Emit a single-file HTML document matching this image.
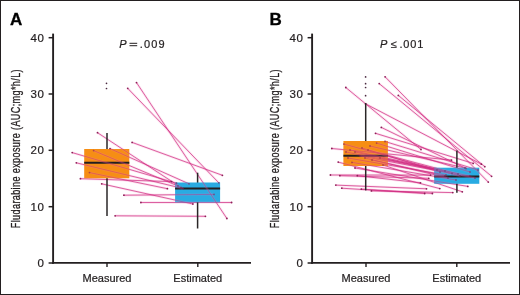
<!DOCTYPE html>
<html><head><meta charset="utf-8"><style>
html,body{margin:0;padding:0;background:#fff;}
body{width:520px;height:295px;overflow:hidden;}
svg{display:block;filter:blur(0.3px);font-family:"Liberation Sans",sans-serif;}
text.t{stroke:#231F20;stroke-width:0.22px;}
</style></head><body>
<svg width="520" height="295" viewBox="0 0 520 295">
<rect x="0" y="0" width="520" height="295" fill="#fff"/>
<text x="10" y="24.5" font-size="17" font-weight="bold" fill="#000" stroke="#000" stroke-width="0.3">A</text>
<text transform="translate(19.6,148.6) rotate(-90) scale(0.745,1)" text-anchor="middle" font-size="12.2" letter-spacing="0.5" fill="#231F20" stroke="#231F20" stroke-width="0.3">Fludarabine exposure (AUC;mg*h/L)</text>
<text x="44.6" y="267.1" text-anchor="end" class="t" font-size="11.5" letter-spacing="0.7" fill="#231F20">0</text>
<line x1="48.6" y1="263.0" x2="53" y2="263.0" stroke="#231F20" stroke-width="1.5"/>
<text x="44.6" y="210.8" text-anchor="end" class="t" font-size="11.5" letter-spacing="0.7" fill="#231F20">10</text>
<line x1="48.6" y1="206.7" x2="53" y2="206.7" stroke="#231F20" stroke-width="1.5"/>
<text x="44.6" y="154.4" text-anchor="end" class="t" font-size="11.5" letter-spacing="0.7" fill="#231F20">20</text>
<line x1="48.6" y1="150.3" x2="53" y2="150.3" stroke="#231F20" stroke-width="1.5"/>
<text x="44.6" y="98.1" text-anchor="end" class="t" font-size="11.5" letter-spacing="0.7" fill="#231F20">30</text>
<line x1="48.6" y1="94.0" x2="53" y2="94.0" stroke="#231F20" stroke-width="1.5"/>
<text x="44.6" y="41.8" text-anchor="end" class="t" font-size="11.5" letter-spacing="0.7" fill="#231F20">40</text>
<line x1="48.6" y1="37.7" x2="53" y2="37.7" stroke="#231F20" stroke-width="1.5"/>
<text x="119.3" y="47.7" class="t" font-size="11" font-style="italic" fill="#231F20">P</text><rect x="129.5" y="42.8" width="7.7" height="1" fill="#231F20"/><rect x="129.5" y="45.2" width="7.7" height="1" fill="#231F20"/><text x="139.8" y="47.9" class="t" font-size="11" letter-spacing="1.1" fill="#231F20">.009</text>
<line x1="136.5" y1="82.6" x2="226.9" y2="218.5" stroke="#F28CC0" stroke-opacity="0.25" stroke-width="2.4"/>
<line x1="127.7" y1="88.3" x2="218.8" y2="182.8" stroke="#F28CC0" stroke-opacity="0.25" stroke-width="2.4"/>
<line x1="132.1" y1="142.4" x2="222.4" y2="175.3" stroke="#F28CC0" stroke-opacity="0.25" stroke-width="2.4"/>
<line x1="97.5" y1="132.7" x2="181.0" y2="187.5" stroke="#F28CC0" stroke-opacity="0.25" stroke-width="2.4"/>
<line x1="110.0" y1="148.6" x2="189.0" y2="183.8" stroke="#F28CC0" stroke-opacity="0.25" stroke-width="2.4"/>
<line x1="93.6" y1="150.6" x2="178.0" y2="186.0" stroke="#F28CC0" stroke-opacity="0.25" stroke-width="2.4"/>
<line x1="72.2" y1="152.6" x2="176.5" y2="183.2" stroke="#F28CC0" stroke-opacity="0.25" stroke-width="2.4"/>
<line x1="76.3" y1="162.8" x2="183.0" y2="188.5" stroke="#F28CC0" stroke-opacity="0.25" stroke-width="2.4"/>
<line x1="89.5" y1="172.6" x2="167.4" y2="188.7" stroke="#F28CC0" stroke-opacity="0.25" stroke-width="2.4"/>
<line x1="80.4" y1="178.7" x2="171.5" y2="181.6" stroke="#F28CC0" stroke-opacity="0.25" stroke-width="2.4"/>
<line x1="101.7" y1="183.8" x2="192.9" y2="204.0" stroke="#F28CC0" stroke-opacity="0.25" stroke-width="2.4"/>
<line x1="123.9" y1="195.2" x2="214.0" y2="194.4" stroke="#F28CC0" stroke-opacity="0.25" stroke-width="2.4"/>
<line x1="140.9" y1="202.5" x2="231.6" y2="202.5" stroke="#F28CC0" stroke-opacity="0.25" stroke-width="2.4"/>
<line x1="115.1" y1="215.8" x2="205.4" y2="216.3" stroke="#F28CC0" stroke-opacity="0.25" stroke-width="2.4"/>
<line x1="136.5" y1="82.6" x2="226.9" y2="218.5" stroke="#D02C82" stroke-opacity="0.9" stroke-width="0.8"/>
<line x1="127.7" y1="88.3" x2="218.8" y2="182.8" stroke="#D02C82" stroke-opacity="0.9" stroke-width="0.8"/>
<line x1="132.1" y1="142.4" x2="222.4" y2="175.3" stroke="#D02C82" stroke-opacity="0.9" stroke-width="0.8"/>
<line x1="97.5" y1="132.7" x2="181.0" y2="187.5" stroke="#D02C82" stroke-opacity="0.9" stroke-width="0.8"/>
<line x1="110.0" y1="148.6" x2="189.0" y2="183.8" stroke="#D02C82" stroke-opacity="0.9" stroke-width="0.8"/>
<line x1="93.6" y1="150.6" x2="178.0" y2="186.0" stroke="#D02C82" stroke-opacity="0.9" stroke-width="0.8"/>
<line x1="72.2" y1="152.6" x2="176.5" y2="183.2" stroke="#D02C82" stroke-opacity="0.9" stroke-width="0.8"/>
<line x1="76.3" y1="162.8" x2="183.0" y2="188.5" stroke="#D02C82" stroke-opacity="0.9" stroke-width="0.8"/>
<line x1="89.5" y1="172.6" x2="167.4" y2="188.7" stroke="#D02C82" stroke-opacity="0.9" stroke-width="0.8"/>
<line x1="80.4" y1="178.7" x2="171.5" y2="181.6" stroke="#D02C82" stroke-opacity="0.9" stroke-width="0.8"/>
<line x1="101.7" y1="183.8" x2="192.9" y2="204.0" stroke="#D02C82" stroke-opacity="0.9" stroke-width="0.8"/>
<line x1="123.9" y1="195.2" x2="214.0" y2="194.4" stroke="#D02C82" stroke-opacity="0.9" stroke-width="0.8"/>
<line x1="140.9" y1="202.5" x2="231.6" y2="202.5" stroke="#D02C82" stroke-opacity="0.9" stroke-width="0.8"/>
<line x1="115.1" y1="215.8" x2="205.4" y2="216.3" stroke="#D02C82" stroke-opacity="0.9" stroke-width="0.8"/>
<circle cx="136.5" cy="82.6" r="0.9" fill="#8E2058"/><circle cx="226.9" cy="218.5" r="0.9" fill="#8E2058"/>
<circle cx="127.7" cy="88.3" r="0.9" fill="#8E2058"/><circle cx="218.8" cy="182.8" r="0.9" fill="#8E2058"/>
<circle cx="132.1" cy="142.4" r="0.9" fill="#8E2058"/><circle cx="222.4" cy="175.3" r="0.9" fill="#8E2058"/>
<circle cx="97.5" cy="132.7" r="0.9" fill="#8E2058"/><circle cx="181.0" cy="187.5" r="0.9" fill="#8E2058"/>
<circle cx="110.0" cy="148.6" r="0.9" fill="#8E2058"/><circle cx="189.0" cy="183.8" r="0.9" fill="#8E2058"/>
<circle cx="93.6" cy="150.6" r="0.9" fill="#8E2058"/><circle cx="178.0" cy="186.0" r="0.9" fill="#8E2058"/>
<circle cx="72.2" cy="152.6" r="0.9" fill="#8E2058"/><circle cx="176.5" cy="183.2" r="0.9" fill="#8E2058"/>
<circle cx="76.3" cy="162.8" r="0.9" fill="#8E2058"/><circle cx="183.0" cy="188.5" r="0.9" fill="#8E2058"/>
<circle cx="89.5" cy="172.6" r="0.9" fill="#8E2058"/><circle cx="167.4" cy="188.7" r="0.9" fill="#8E2058"/>
<circle cx="80.4" cy="178.7" r="0.9" fill="#8E2058"/><circle cx="171.5" cy="181.6" r="0.9" fill="#8E2058"/>
<circle cx="101.7" cy="183.8" r="0.9" fill="#8E2058"/><circle cx="192.9" cy="204.0" r="0.9" fill="#8E2058"/>
<circle cx="123.9" cy="195.2" r="0.9" fill="#8E2058"/><circle cx="214.0" cy="194.4" r="0.9" fill="#8E2058"/>
<circle cx="140.9" cy="202.5" r="0.9" fill="#8E2058"/><circle cx="231.6" cy="202.5" r="0.9" fill="#8E2058"/>
<circle cx="115.1" cy="215.8" r="0.9" fill="#8E2058"/><circle cx="205.4" cy="216.3" r="0.9" fill="#8E2058"/>
<circle cx="106.5" cy="83.3" r="0.85" fill="#4A2A40"/>
<circle cx="106.5" cy="88.5" r="0.85" fill="#4A2A40"/>
<line x1="107" y1="133" x2="107" y2="216" stroke="#2A2627" stroke-width="1.5"/>
<rect x="84.2" y="149" width="45.10000000000001" height="29.30000000000001" fill="#F68E14"/>
<line x1="197.6" y1="172.7" x2="197.6" y2="228.5" stroke="#2A2627" stroke-width="1.5"/>
<rect x="175.1" y="182.5" width="45.0" height="19.80000000000001" fill="#29ABE2"/>
<line x1="84.2" y1="162.8" x2="129.3" y2="162.8" stroke="#231F20" stroke-width="2"/>
<line x1="175.1" y1="188.6" x2="220.1" y2="188.6" stroke="#231F20" stroke-width="2"/>
<clipPath id="clipA"><rect x="84.2" y="149" width="45.10000000000001" height="29.30000000000001"/><rect x="175.1" y="182.5" width="45.0" height="19.80000000000001"/></clipPath>
<g clip-path="url(#clipA)" opacity="0.65"><line x1="136.5" y1="82.6" x2="226.9" y2="218.5" stroke="#F28CC0" stroke-opacity="0.25" stroke-width="2.4"/><line x1="127.7" y1="88.3" x2="218.8" y2="182.8" stroke="#F28CC0" stroke-opacity="0.25" stroke-width="2.4"/><line x1="132.1" y1="142.4" x2="222.4" y2="175.3" stroke="#F28CC0" stroke-opacity="0.25" stroke-width="2.4"/><line x1="97.5" y1="132.7" x2="181.0" y2="187.5" stroke="#F28CC0" stroke-opacity="0.25" stroke-width="2.4"/><line x1="110.0" y1="148.6" x2="189.0" y2="183.8" stroke="#F28CC0" stroke-opacity="0.25" stroke-width="2.4"/><line x1="93.6" y1="150.6" x2="178.0" y2="186.0" stroke="#F28CC0" stroke-opacity="0.25" stroke-width="2.4"/><line x1="72.2" y1="152.6" x2="176.5" y2="183.2" stroke="#F28CC0" stroke-opacity="0.25" stroke-width="2.4"/><line x1="76.3" y1="162.8" x2="183.0" y2="188.5" stroke="#F28CC0" stroke-opacity="0.25" stroke-width="2.4"/><line x1="89.5" y1="172.6" x2="167.4" y2="188.7" stroke="#F28CC0" stroke-opacity="0.25" stroke-width="2.4"/><line x1="80.4" y1="178.7" x2="171.5" y2="181.6" stroke="#F28CC0" stroke-opacity="0.25" stroke-width="2.4"/><line x1="101.7" y1="183.8" x2="192.9" y2="204.0" stroke="#F28CC0" stroke-opacity="0.25" stroke-width="2.4"/><line x1="123.9" y1="195.2" x2="214.0" y2="194.4" stroke="#F28CC0" stroke-opacity="0.25" stroke-width="2.4"/><line x1="140.9" y1="202.5" x2="231.6" y2="202.5" stroke="#F28CC0" stroke-opacity="0.25" stroke-width="2.4"/><line x1="115.1" y1="215.8" x2="205.4" y2="216.3" stroke="#F28CC0" stroke-opacity="0.25" stroke-width="2.4"/><line x1="136.5" y1="82.6" x2="226.9" y2="218.5" stroke="#D02C82" stroke-opacity="0.9" stroke-width="0.8"/><line x1="127.7" y1="88.3" x2="218.8" y2="182.8" stroke="#D02C82" stroke-opacity="0.9" stroke-width="0.8"/><line x1="132.1" y1="142.4" x2="222.4" y2="175.3" stroke="#D02C82" stroke-opacity="0.9" stroke-width="0.8"/><line x1="97.5" y1="132.7" x2="181.0" y2="187.5" stroke="#D02C82" stroke-opacity="0.9" stroke-width="0.8"/><line x1="110.0" y1="148.6" x2="189.0" y2="183.8" stroke="#D02C82" stroke-opacity="0.9" stroke-width="0.8"/><line x1="93.6" y1="150.6" x2="178.0" y2="186.0" stroke="#D02C82" stroke-opacity="0.9" stroke-width="0.8"/><line x1="72.2" y1="152.6" x2="176.5" y2="183.2" stroke="#D02C82" stroke-opacity="0.9" stroke-width="0.8"/><line x1="76.3" y1="162.8" x2="183.0" y2="188.5" stroke="#D02C82" stroke-opacity="0.9" stroke-width="0.8"/><line x1="89.5" y1="172.6" x2="167.4" y2="188.7" stroke="#D02C82" stroke-opacity="0.9" stroke-width="0.8"/><line x1="80.4" y1="178.7" x2="171.5" y2="181.6" stroke="#D02C82" stroke-opacity="0.9" stroke-width="0.8"/><line x1="101.7" y1="183.8" x2="192.9" y2="204.0" stroke="#D02C82" stroke-opacity="0.9" stroke-width="0.8"/><line x1="123.9" y1="195.2" x2="214.0" y2="194.4" stroke="#D02C82" stroke-opacity="0.9" stroke-width="0.8"/><line x1="140.9" y1="202.5" x2="231.6" y2="202.5" stroke="#D02C82" stroke-opacity="0.9" stroke-width="0.8"/><line x1="115.1" y1="215.8" x2="205.4" y2="216.3" stroke="#D02C82" stroke-opacity="0.9" stroke-width="0.8"/><circle cx="136.5" cy="82.6" r="0.9" fill="#8E2058"/><circle cx="226.9" cy="218.5" r="0.9" fill="#8E2058"/><circle cx="127.7" cy="88.3" r="0.9" fill="#8E2058"/><circle cx="218.8" cy="182.8" r="0.9" fill="#8E2058"/><circle cx="132.1" cy="142.4" r="0.9" fill="#8E2058"/><circle cx="222.4" cy="175.3" r="0.9" fill="#8E2058"/><circle cx="97.5" cy="132.7" r="0.9" fill="#8E2058"/><circle cx="181.0" cy="187.5" r="0.9" fill="#8E2058"/><circle cx="110.0" cy="148.6" r="0.9" fill="#8E2058"/><circle cx="189.0" cy="183.8" r="0.9" fill="#8E2058"/><circle cx="93.6" cy="150.6" r="0.9" fill="#8E2058"/><circle cx="178.0" cy="186.0" r="0.9" fill="#8E2058"/><circle cx="72.2" cy="152.6" r="0.9" fill="#8E2058"/><circle cx="176.5" cy="183.2" r="0.9" fill="#8E2058"/><circle cx="76.3" cy="162.8" r="0.9" fill="#8E2058"/><circle cx="183.0" cy="188.5" r="0.9" fill="#8E2058"/><circle cx="89.5" cy="172.6" r="0.9" fill="#8E2058"/><circle cx="167.4" cy="188.7" r="0.9" fill="#8E2058"/><circle cx="80.4" cy="178.7" r="0.9" fill="#8E2058"/><circle cx="171.5" cy="181.6" r="0.9" fill="#8E2058"/><circle cx="101.7" cy="183.8" r="0.9" fill="#8E2058"/><circle cx="192.9" cy="204.0" r="0.9" fill="#8E2058"/><circle cx="123.9" cy="195.2" r="0.9" fill="#8E2058"/><circle cx="214.0" cy="194.4" r="0.9" fill="#8E2058"/><circle cx="140.9" cy="202.5" r="0.9" fill="#8E2058"/><circle cx="231.6" cy="202.5" r="0.9" fill="#8E2058"/><circle cx="115.1" cy="215.8" r="0.9" fill="#8E2058"/><circle cx="205.4" cy="216.3" r="0.9" fill="#8E2058"/><circle cx="106.5" cy="83.3" r="0.85" fill="#4A2A40"/><circle cx="106.5" cy="88.5" r="0.85" fill="#4A2A40"/></g>

<line x1="53.1" y1="33.6" x2="53.1" y2="263.8" stroke="#231F20" stroke-width="1.9"/>
<line x1="52.2" y1="262.85" x2="251" y2="262.85" stroke="#231F20" stroke-width="1.9"/>
<line x1="107" y1="263" x2="107" y2="267" stroke="#231F20" stroke-width="1.4"/>
<line x1="197.8" y1="263" x2="197.8" y2="267" stroke="#231F20" stroke-width="1.4"/>
<text x="107" y="281.7" class="t" text-anchor="middle" font-size="11" fill="#231F20">Measured</text>
<text x="197.8" y="281.7" class="t" text-anchor="middle" font-size="11" fill="#231F20">Estimated</text><text x="269.4" y="24.5" font-size="17" font-weight="bold" fill="#000" stroke="#000" stroke-width="0.3">B</text>
<text transform="translate(278.6,148.6) rotate(-90) scale(0.745,1)" text-anchor="middle" font-size="12.2" letter-spacing="0.5" fill="#231F20" stroke="#231F20" stroke-width="0.3">Fludarabine exposure (AUC;mg*h/L)</text>
<text x="303.6" y="267.1" text-anchor="end" class="t" font-size="11.5" letter-spacing="0.7" fill="#231F20">0</text>
<line x1="307.6" y1="263.0" x2="312" y2="263.0" stroke="#231F20" stroke-width="1.5"/>
<text x="303.6" y="210.8" text-anchor="end" class="t" font-size="11.5" letter-spacing="0.7" fill="#231F20">10</text>
<line x1="307.6" y1="206.7" x2="312" y2="206.7" stroke="#231F20" stroke-width="1.5"/>
<text x="303.6" y="154.4" text-anchor="end" class="t" font-size="11.5" letter-spacing="0.7" fill="#231F20">20</text>
<line x1="307.6" y1="150.3" x2="312" y2="150.3" stroke="#231F20" stroke-width="1.5"/>
<text x="303.6" y="98.1" text-anchor="end" class="t" font-size="11.5" letter-spacing="0.7" fill="#231F20">30</text>
<line x1="307.6" y1="94.0" x2="312" y2="94.0" stroke="#231F20" stroke-width="1.5"/>
<text x="303.6" y="41.8" text-anchor="end" class="t" font-size="11.5" letter-spacing="0.7" fill="#231F20">40</text>
<line x1="307.6" y1="37.7" x2="312" y2="37.7" stroke="#231F20" stroke-width="1.5"/>
<text x="380.1" y="47.8" class="t" font-size="11" font-style="italic" fill="#231F20">P</text><text x="390.4" y="48.3" class="t" font-size="11" fill="#231F20">≤</text><text x="399.5" y="47.9" class="t" font-size="11" letter-spacing="0.8" fill="#231F20">.001</text>
<line x1="385.1" y1="76.8" x2="488.3" y2="182.1" stroke="#F28CC0" stroke-opacity="0.25" stroke-width="2.4"/>
<line x1="379.2" y1="83.6" x2="491.6" y2="176.3" stroke="#F28CC0" stroke-opacity="0.25" stroke-width="2.4"/>
<line x1="398.3" y1="95.4" x2="484.8" y2="166.7" stroke="#F28CC0" stroke-opacity="0.25" stroke-width="2.4"/>
<line x1="365.5" y1="103.8" x2="481.4" y2="164.2" stroke="#F28CC0" stroke-opacity="0.25" stroke-width="2.4"/>
<line x1="345.8" y1="87.5" x2="421.0" y2="149.5" stroke="#F28CC0" stroke-opacity="0.25" stroke-width="2.4"/>
<line x1="381.3" y1="127.4" x2="466.0" y2="168.5" stroke="#F28CC0" stroke-opacity="0.25" stroke-width="2.4"/>
<line x1="375.5" y1="133.3" x2="473.2" y2="163.4" stroke="#F28CC0" stroke-opacity="0.25" stroke-width="2.4"/>
<line x1="376.6" y1="143.1" x2="470.0" y2="172.0" stroke="#F28CC0" stroke-opacity="0.25" stroke-width="2.4"/>
<line x1="344.0" y1="144.1" x2="460.0" y2="176.0" stroke="#F28CC0" stroke-opacity="0.25" stroke-width="2.4"/>
<line x1="331.8" y1="148.5" x2="451.5" y2="160.1" stroke="#F28CC0" stroke-opacity="0.25" stroke-width="2.4"/>
<line x1="359.6" y1="155.8" x2="475.0" y2="178.0" stroke="#F28CC0" stroke-opacity="0.25" stroke-width="2.4"/>
<line x1="350.0" y1="150.0" x2="445.0" y2="171.0" stroke="#F28CC0" stroke-opacity="0.25" stroke-width="2.4"/>
<line x1="370.0" y1="146.0" x2="465.0" y2="168.0" stroke="#F28CC0" stroke-opacity="0.25" stroke-width="2.4"/>
<line x1="385.0" y1="141.5" x2="478.0" y2="170.0" stroke="#F28CC0" stroke-opacity="0.25" stroke-width="2.4"/>
<line x1="338.2" y1="162.1" x2="439.8" y2="188.6" stroke="#F28CC0" stroke-opacity="0.25" stroke-width="2.4"/>
<line x1="352.0" y1="162.4" x2="456.0" y2="180.0" stroke="#F28CC0" stroke-opacity="0.25" stroke-width="2.4"/>
<line x1="383.0" y1="165.0" x2="462.3" y2="191.8" stroke="#F28CC0" stroke-opacity="0.25" stroke-width="2.4"/>
<line x1="365.0" y1="158.0" x2="448.0" y2="178.0" stroke="#F28CC0" stroke-opacity="0.25" stroke-width="2.4"/>
<line x1="330.4" y1="175.0" x2="430.6" y2="175.1" stroke="#F28CC0" stroke-opacity="0.25" stroke-width="2.4"/>
<line x1="339.8" y1="175.7" x2="428.8" y2="178.3" stroke="#F28CC0" stroke-opacity="0.25" stroke-width="2.4"/>
<line x1="357.3" y1="175.7" x2="420.5" y2="182.8" stroke="#F28CC0" stroke-opacity="0.25" stroke-width="2.4"/>
<line x1="335.8" y1="185.1" x2="426.5" y2="188.8" stroke="#F28CC0" stroke-opacity="0.25" stroke-width="2.4"/>
<line x1="341.8" y1="188.2" x2="424.7" y2="193.5" stroke="#F28CC0" stroke-opacity="0.25" stroke-width="2.4"/>
<line x1="361.3" y1="189.1" x2="432.4" y2="193.5" stroke="#F28CC0" stroke-opacity="0.25" stroke-width="2.4"/>
<line x1="371.4" y1="190.9" x2="452.8" y2="192.6" stroke="#F28CC0" stroke-opacity="0.25" stroke-width="2.4"/>
<line x1="355.0" y1="168.0" x2="467.8" y2="186.4" stroke="#F28CC0" stroke-opacity="0.25" stroke-width="2.4"/>
<line x1="368.0" y1="150.0" x2="458.0" y2="174.0" stroke="#F28CC0" stroke-opacity="0.25" stroke-width="2.4"/>
<line x1="355.0" y1="152.0" x2="452.0" y2="173.5" stroke="#F28CC0" stroke-opacity="0.25" stroke-width="2.4"/>
<line x1="380.0" y1="158.0" x2="470.0" y2="176.0" stroke="#F28CC0" stroke-opacity="0.25" stroke-width="2.4"/>
<line x1="348.0" y1="158.0" x2="446.0" y2="175.0" stroke="#F28CC0" stroke-opacity="0.25" stroke-width="2.4"/>
<line x1="362.0" y1="148.0" x2="440.0" y2="172.0" stroke="#F28CC0" stroke-opacity="0.25" stroke-width="2.4"/>
<line x1="372.0" y1="160.0" x2="445.0" y2="176.0" stroke="#F28CC0" stroke-opacity="0.25" stroke-width="2.4"/>
<line x1="346.0" y1="152.0" x2="437.0" y2="170.0" stroke="#F28CC0" stroke-opacity="0.25" stroke-width="2.4"/>
<line x1="385.1" y1="76.8" x2="488.3" y2="182.1" stroke="#D02C82" stroke-opacity="0.9" stroke-width="0.8"/>
<line x1="379.2" y1="83.6" x2="491.6" y2="176.3" stroke="#D02C82" stroke-opacity="0.9" stroke-width="0.8"/>
<line x1="398.3" y1="95.4" x2="484.8" y2="166.7" stroke="#D02C82" stroke-opacity="0.9" stroke-width="0.8"/>
<line x1="365.5" y1="103.8" x2="481.4" y2="164.2" stroke="#D02C82" stroke-opacity="0.9" stroke-width="0.8"/>
<line x1="345.8" y1="87.5" x2="421.0" y2="149.5" stroke="#D02C82" stroke-opacity="0.9" stroke-width="0.8"/>
<line x1="381.3" y1="127.4" x2="466.0" y2="168.5" stroke="#D02C82" stroke-opacity="0.9" stroke-width="0.8"/>
<line x1="375.5" y1="133.3" x2="473.2" y2="163.4" stroke="#D02C82" stroke-opacity="0.9" stroke-width="0.8"/>
<line x1="376.6" y1="143.1" x2="470.0" y2="172.0" stroke="#D02C82" stroke-opacity="0.9" stroke-width="0.8"/>
<line x1="344.0" y1="144.1" x2="460.0" y2="176.0" stroke="#D02C82" stroke-opacity="0.9" stroke-width="0.8"/>
<line x1="331.8" y1="148.5" x2="451.5" y2="160.1" stroke="#D02C82" stroke-opacity="0.9" stroke-width="0.8"/>
<line x1="359.6" y1="155.8" x2="475.0" y2="178.0" stroke="#D02C82" stroke-opacity="0.9" stroke-width="0.8"/>
<line x1="350.0" y1="150.0" x2="445.0" y2="171.0" stroke="#D02C82" stroke-opacity="0.9" stroke-width="0.8"/>
<line x1="370.0" y1="146.0" x2="465.0" y2="168.0" stroke="#D02C82" stroke-opacity="0.9" stroke-width="0.8"/>
<line x1="385.0" y1="141.5" x2="478.0" y2="170.0" stroke="#D02C82" stroke-opacity="0.9" stroke-width="0.8"/>
<line x1="338.2" y1="162.1" x2="439.8" y2="188.6" stroke="#D02C82" stroke-opacity="0.9" stroke-width="0.8"/>
<line x1="352.0" y1="162.4" x2="456.0" y2="180.0" stroke="#D02C82" stroke-opacity="0.9" stroke-width="0.8"/>
<line x1="383.0" y1="165.0" x2="462.3" y2="191.8" stroke="#D02C82" stroke-opacity="0.9" stroke-width="0.8"/>
<line x1="365.0" y1="158.0" x2="448.0" y2="178.0" stroke="#D02C82" stroke-opacity="0.9" stroke-width="0.8"/>
<line x1="330.4" y1="175.0" x2="430.6" y2="175.1" stroke="#D02C82" stroke-opacity="0.9" stroke-width="0.8"/>
<line x1="339.8" y1="175.7" x2="428.8" y2="178.3" stroke="#D02C82" stroke-opacity="0.9" stroke-width="0.8"/>
<line x1="357.3" y1="175.7" x2="420.5" y2="182.8" stroke="#D02C82" stroke-opacity="0.9" stroke-width="0.8"/>
<line x1="335.8" y1="185.1" x2="426.5" y2="188.8" stroke="#D02C82" stroke-opacity="0.9" stroke-width="0.8"/>
<line x1="341.8" y1="188.2" x2="424.7" y2="193.5" stroke="#D02C82" stroke-opacity="0.9" stroke-width="0.8"/>
<line x1="361.3" y1="189.1" x2="432.4" y2="193.5" stroke="#D02C82" stroke-opacity="0.9" stroke-width="0.8"/>
<line x1="371.4" y1="190.9" x2="452.8" y2="192.6" stroke="#D02C82" stroke-opacity="0.9" stroke-width="0.8"/>
<line x1="355.0" y1="168.0" x2="467.8" y2="186.4" stroke="#D02C82" stroke-opacity="0.9" stroke-width="0.8"/>
<line x1="368.0" y1="150.0" x2="458.0" y2="174.0" stroke="#D02C82" stroke-opacity="0.9" stroke-width="0.8"/>
<line x1="355.0" y1="152.0" x2="452.0" y2="173.5" stroke="#D02C82" stroke-opacity="0.9" stroke-width="0.8"/>
<line x1="380.0" y1="158.0" x2="470.0" y2="176.0" stroke="#D02C82" stroke-opacity="0.9" stroke-width="0.8"/>
<line x1="348.0" y1="158.0" x2="446.0" y2="175.0" stroke="#D02C82" stroke-opacity="0.9" stroke-width="0.8"/>
<line x1="362.0" y1="148.0" x2="440.0" y2="172.0" stroke="#D02C82" stroke-opacity="0.9" stroke-width="0.8"/>
<line x1="372.0" y1="160.0" x2="445.0" y2="176.0" stroke="#D02C82" stroke-opacity="0.9" stroke-width="0.8"/>
<line x1="346.0" y1="152.0" x2="437.0" y2="170.0" stroke="#D02C82" stroke-opacity="0.9" stroke-width="0.8"/>
<circle cx="385.1" cy="76.8" r="0.9" fill="#8E2058"/><circle cx="488.3" cy="182.1" r="0.9" fill="#8E2058"/>
<circle cx="379.2" cy="83.6" r="0.9" fill="#8E2058"/><circle cx="491.6" cy="176.3" r="0.9" fill="#8E2058"/>
<circle cx="398.3" cy="95.4" r="0.9" fill="#8E2058"/><circle cx="484.8" cy="166.7" r="0.9" fill="#8E2058"/>
<circle cx="365.5" cy="103.8" r="0.9" fill="#8E2058"/><circle cx="481.4" cy="164.2" r="0.9" fill="#8E2058"/>
<circle cx="345.8" cy="87.5" r="0.9" fill="#8E2058"/><circle cx="421.0" cy="149.5" r="0.9" fill="#8E2058"/>
<circle cx="381.3" cy="127.4" r="0.9" fill="#8E2058"/><circle cx="466.0" cy="168.5" r="0.9" fill="#8E2058"/>
<circle cx="375.5" cy="133.3" r="0.9" fill="#8E2058"/><circle cx="473.2" cy="163.4" r="0.9" fill="#8E2058"/>
<circle cx="376.6" cy="143.1" r="0.9" fill="#8E2058"/><circle cx="470.0" cy="172.0" r="0.9" fill="#8E2058"/>
<circle cx="344.0" cy="144.1" r="0.9" fill="#8E2058"/><circle cx="460.0" cy="176.0" r="0.9" fill="#8E2058"/>
<circle cx="331.8" cy="148.5" r="0.9" fill="#8E2058"/><circle cx="451.5" cy="160.1" r="0.9" fill="#8E2058"/>
<circle cx="359.6" cy="155.8" r="0.9" fill="#8E2058"/><circle cx="475.0" cy="178.0" r="0.9" fill="#8E2058"/>
<circle cx="350.0" cy="150.0" r="0.9" fill="#8E2058"/><circle cx="445.0" cy="171.0" r="0.9" fill="#8E2058"/>
<circle cx="370.0" cy="146.0" r="0.9" fill="#8E2058"/><circle cx="465.0" cy="168.0" r="0.9" fill="#8E2058"/>
<circle cx="385.0" cy="141.5" r="0.9" fill="#8E2058"/><circle cx="478.0" cy="170.0" r="0.9" fill="#8E2058"/>
<circle cx="338.2" cy="162.1" r="0.9" fill="#8E2058"/><circle cx="439.8" cy="188.6" r="0.9" fill="#8E2058"/>
<circle cx="352.0" cy="162.4" r="0.9" fill="#8E2058"/><circle cx="456.0" cy="180.0" r="0.9" fill="#8E2058"/>
<circle cx="383.0" cy="165.0" r="0.9" fill="#8E2058"/><circle cx="462.3" cy="191.8" r="0.9" fill="#8E2058"/>
<circle cx="365.0" cy="158.0" r="0.9" fill="#8E2058"/><circle cx="448.0" cy="178.0" r="0.9" fill="#8E2058"/>
<circle cx="330.4" cy="175.0" r="0.9" fill="#8E2058"/><circle cx="430.6" cy="175.1" r="0.9" fill="#8E2058"/>
<circle cx="339.8" cy="175.7" r="0.9" fill="#8E2058"/><circle cx="428.8" cy="178.3" r="0.9" fill="#8E2058"/>
<circle cx="357.3" cy="175.7" r="0.9" fill="#8E2058"/><circle cx="420.5" cy="182.8" r="0.9" fill="#8E2058"/>
<circle cx="335.8" cy="185.1" r="0.9" fill="#8E2058"/><circle cx="426.5" cy="188.8" r="0.9" fill="#8E2058"/>
<circle cx="341.8" cy="188.2" r="0.9" fill="#8E2058"/><circle cx="424.7" cy="193.5" r="0.9" fill="#8E2058"/>
<circle cx="361.3" cy="189.1" r="0.9" fill="#8E2058"/><circle cx="432.4" cy="193.5" r="0.9" fill="#8E2058"/>
<circle cx="371.4" cy="190.9" r="0.9" fill="#8E2058"/><circle cx="452.8" cy="192.6" r="0.9" fill="#8E2058"/>
<circle cx="355.0" cy="168.0" r="0.9" fill="#8E2058"/><circle cx="467.8" cy="186.4" r="0.9" fill="#8E2058"/>
<circle cx="368.0" cy="150.0" r="0.9" fill="#8E2058"/><circle cx="458.0" cy="174.0" r="0.9" fill="#8E2058"/>
<circle cx="355.0" cy="152.0" r="0.9" fill="#8E2058"/><circle cx="452.0" cy="173.5" r="0.9" fill="#8E2058"/>
<circle cx="380.0" cy="158.0" r="0.9" fill="#8E2058"/><circle cx="470.0" cy="176.0" r="0.9" fill="#8E2058"/>
<circle cx="348.0" cy="158.0" r="0.9" fill="#8E2058"/><circle cx="446.0" cy="175.0" r="0.9" fill="#8E2058"/>
<circle cx="362.0" cy="148.0" r="0.9" fill="#8E2058"/><circle cx="440.0" cy="172.0" r="0.9" fill="#8E2058"/>
<circle cx="372.0" cy="160.0" r="0.9" fill="#8E2058"/><circle cx="445.0" cy="176.0" r="0.9" fill="#8E2058"/>
<circle cx="346.0" cy="152.0" r="0.9" fill="#8E2058"/><circle cx="437.0" cy="170.0" r="0.9" fill="#8E2058"/>
<circle cx="365.6" cy="76.9" r="0.85" fill="#4A2A40"/>
<circle cx="365.6" cy="83.7" r="0.85" fill="#4A2A40"/>
<circle cx="365.6" cy="87.5" r="0.85" fill="#4A2A40"/>
<circle cx="365.6" cy="95.7" r="0.85" fill="#4A2A40"/>
<line x1="365.7" y1="103.1" x2="365.7" y2="190.4" stroke="#2A2627" stroke-width="1.5"/>
<rect x="343.4" y="141.0" width="44.5" height="25.0" fill="#F68E14"/>
<line x1="456.9" y1="150.5" x2="456.9" y2="192.7" stroke="#2A2627" stroke-width="1.5"/>
<rect x="434.2" y="167.7" width="45.10000000000002" height="16.100000000000023" fill="#29ABE2"/>
<line x1="343.4" y1="155.8" x2="387.9" y2="155.8" stroke="#231F20" stroke-width="2"/>
<line x1="434.2" y1="176.6" x2="479.3" y2="176.6" stroke="#231F20" stroke-width="2"/>
<clipPath id="clipB"><rect x="343.4" y="141.0" width="44.5" height="25.0"/><rect x="434.2" y="167.7" width="45.10000000000002" height="16.100000000000023"/></clipPath>
<g clip-path="url(#clipB)" opacity="0.65"><line x1="385.1" y1="76.8" x2="488.3" y2="182.1" stroke="#F28CC0" stroke-opacity="0.25" stroke-width="2.4"/><line x1="379.2" y1="83.6" x2="491.6" y2="176.3" stroke="#F28CC0" stroke-opacity="0.25" stroke-width="2.4"/><line x1="398.3" y1="95.4" x2="484.8" y2="166.7" stroke="#F28CC0" stroke-opacity="0.25" stroke-width="2.4"/><line x1="365.5" y1="103.8" x2="481.4" y2="164.2" stroke="#F28CC0" stroke-opacity="0.25" stroke-width="2.4"/><line x1="345.8" y1="87.5" x2="421.0" y2="149.5" stroke="#F28CC0" stroke-opacity="0.25" stroke-width="2.4"/><line x1="381.3" y1="127.4" x2="466.0" y2="168.5" stroke="#F28CC0" stroke-opacity="0.25" stroke-width="2.4"/><line x1="375.5" y1="133.3" x2="473.2" y2="163.4" stroke="#F28CC0" stroke-opacity="0.25" stroke-width="2.4"/><line x1="376.6" y1="143.1" x2="470.0" y2="172.0" stroke="#F28CC0" stroke-opacity="0.25" stroke-width="2.4"/><line x1="344.0" y1="144.1" x2="460.0" y2="176.0" stroke="#F28CC0" stroke-opacity="0.25" stroke-width="2.4"/><line x1="331.8" y1="148.5" x2="451.5" y2="160.1" stroke="#F28CC0" stroke-opacity="0.25" stroke-width="2.4"/><line x1="359.6" y1="155.8" x2="475.0" y2="178.0" stroke="#F28CC0" stroke-opacity="0.25" stroke-width="2.4"/><line x1="350.0" y1="150.0" x2="445.0" y2="171.0" stroke="#F28CC0" stroke-opacity="0.25" stroke-width="2.4"/><line x1="370.0" y1="146.0" x2="465.0" y2="168.0" stroke="#F28CC0" stroke-opacity="0.25" stroke-width="2.4"/><line x1="385.0" y1="141.5" x2="478.0" y2="170.0" stroke="#F28CC0" stroke-opacity="0.25" stroke-width="2.4"/><line x1="338.2" y1="162.1" x2="439.8" y2="188.6" stroke="#F28CC0" stroke-opacity="0.25" stroke-width="2.4"/><line x1="352.0" y1="162.4" x2="456.0" y2="180.0" stroke="#F28CC0" stroke-opacity="0.25" stroke-width="2.4"/><line x1="383.0" y1="165.0" x2="462.3" y2="191.8" stroke="#F28CC0" stroke-opacity="0.25" stroke-width="2.4"/><line x1="365.0" y1="158.0" x2="448.0" y2="178.0" stroke="#F28CC0" stroke-opacity="0.25" stroke-width="2.4"/><line x1="330.4" y1="175.0" x2="430.6" y2="175.1" stroke="#F28CC0" stroke-opacity="0.25" stroke-width="2.4"/><line x1="339.8" y1="175.7" x2="428.8" y2="178.3" stroke="#F28CC0" stroke-opacity="0.25" stroke-width="2.4"/><line x1="357.3" y1="175.7" x2="420.5" y2="182.8" stroke="#F28CC0" stroke-opacity="0.25" stroke-width="2.4"/><line x1="335.8" y1="185.1" x2="426.5" y2="188.8" stroke="#F28CC0" stroke-opacity="0.25" stroke-width="2.4"/><line x1="341.8" y1="188.2" x2="424.7" y2="193.5" stroke="#F28CC0" stroke-opacity="0.25" stroke-width="2.4"/><line x1="361.3" y1="189.1" x2="432.4" y2="193.5" stroke="#F28CC0" stroke-opacity="0.25" stroke-width="2.4"/><line x1="371.4" y1="190.9" x2="452.8" y2="192.6" stroke="#F28CC0" stroke-opacity="0.25" stroke-width="2.4"/><line x1="355.0" y1="168.0" x2="467.8" y2="186.4" stroke="#F28CC0" stroke-opacity="0.25" stroke-width="2.4"/><line x1="368.0" y1="150.0" x2="458.0" y2="174.0" stroke="#F28CC0" stroke-opacity="0.25" stroke-width="2.4"/><line x1="355.0" y1="152.0" x2="452.0" y2="173.5" stroke="#F28CC0" stroke-opacity="0.25" stroke-width="2.4"/><line x1="380.0" y1="158.0" x2="470.0" y2="176.0" stroke="#F28CC0" stroke-opacity="0.25" stroke-width="2.4"/><line x1="348.0" y1="158.0" x2="446.0" y2="175.0" stroke="#F28CC0" stroke-opacity="0.25" stroke-width="2.4"/><line x1="362.0" y1="148.0" x2="440.0" y2="172.0" stroke="#F28CC0" stroke-opacity="0.25" stroke-width="2.4"/><line x1="372.0" y1="160.0" x2="445.0" y2="176.0" stroke="#F28CC0" stroke-opacity="0.25" stroke-width="2.4"/><line x1="346.0" y1="152.0" x2="437.0" y2="170.0" stroke="#F28CC0" stroke-opacity="0.25" stroke-width="2.4"/><line x1="385.1" y1="76.8" x2="488.3" y2="182.1" stroke="#D02C82" stroke-opacity="0.9" stroke-width="0.8"/><line x1="379.2" y1="83.6" x2="491.6" y2="176.3" stroke="#D02C82" stroke-opacity="0.9" stroke-width="0.8"/><line x1="398.3" y1="95.4" x2="484.8" y2="166.7" stroke="#D02C82" stroke-opacity="0.9" stroke-width="0.8"/><line x1="365.5" y1="103.8" x2="481.4" y2="164.2" stroke="#D02C82" stroke-opacity="0.9" stroke-width="0.8"/><line x1="345.8" y1="87.5" x2="421.0" y2="149.5" stroke="#D02C82" stroke-opacity="0.9" stroke-width="0.8"/><line x1="381.3" y1="127.4" x2="466.0" y2="168.5" stroke="#D02C82" stroke-opacity="0.9" stroke-width="0.8"/><line x1="375.5" y1="133.3" x2="473.2" y2="163.4" stroke="#D02C82" stroke-opacity="0.9" stroke-width="0.8"/><line x1="376.6" y1="143.1" x2="470.0" y2="172.0" stroke="#D02C82" stroke-opacity="0.9" stroke-width="0.8"/><line x1="344.0" y1="144.1" x2="460.0" y2="176.0" stroke="#D02C82" stroke-opacity="0.9" stroke-width="0.8"/><line x1="331.8" y1="148.5" x2="451.5" y2="160.1" stroke="#D02C82" stroke-opacity="0.9" stroke-width="0.8"/><line x1="359.6" y1="155.8" x2="475.0" y2="178.0" stroke="#D02C82" stroke-opacity="0.9" stroke-width="0.8"/><line x1="350.0" y1="150.0" x2="445.0" y2="171.0" stroke="#D02C82" stroke-opacity="0.9" stroke-width="0.8"/><line x1="370.0" y1="146.0" x2="465.0" y2="168.0" stroke="#D02C82" stroke-opacity="0.9" stroke-width="0.8"/><line x1="385.0" y1="141.5" x2="478.0" y2="170.0" stroke="#D02C82" stroke-opacity="0.9" stroke-width="0.8"/><line x1="338.2" y1="162.1" x2="439.8" y2="188.6" stroke="#D02C82" stroke-opacity="0.9" stroke-width="0.8"/><line x1="352.0" y1="162.4" x2="456.0" y2="180.0" stroke="#D02C82" stroke-opacity="0.9" stroke-width="0.8"/><line x1="383.0" y1="165.0" x2="462.3" y2="191.8" stroke="#D02C82" stroke-opacity="0.9" stroke-width="0.8"/><line x1="365.0" y1="158.0" x2="448.0" y2="178.0" stroke="#D02C82" stroke-opacity="0.9" stroke-width="0.8"/><line x1="330.4" y1="175.0" x2="430.6" y2="175.1" stroke="#D02C82" stroke-opacity="0.9" stroke-width="0.8"/><line x1="339.8" y1="175.7" x2="428.8" y2="178.3" stroke="#D02C82" stroke-opacity="0.9" stroke-width="0.8"/><line x1="357.3" y1="175.7" x2="420.5" y2="182.8" stroke="#D02C82" stroke-opacity="0.9" stroke-width="0.8"/><line x1="335.8" y1="185.1" x2="426.5" y2="188.8" stroke="#D02C82" stroke-opacity="0.9" stroke-width="0.8"/><line x1="341.8" y1="188.2" x2="424.7" y2="193.5" stroke="#D02C82" stroke-opacity="0.9" stroke-width="0.8"/><line x1="361.3" y1="189.1" x2="432.4" y2="193.5" stroke="#D02C82" stroke-opacity="0.9" stroke-width="0.8"/><line x1="371.4" y1="190.9" x2="452.8" y2="192.6" stroke="#D02C82" stroke-opacity="0.9" stroke-width="0.8"/><line x1="355.0" y1="168.0" x2="467.8" y2="186.4" stroke="#D02C82" stroke-opacity="0.9" stroke-width="0.8"/><line x1="368.0" y1="150.0" x2="458.0" y2="174.0" stroke="#D02C82" stroke-opacity="0.9" stroke-width="0.8"/><line x1="355.0" y1="152.0" x2="452.0" y2="173.5" stroke="#D02C82" stroke-opacity="0.9" stroke-width="0.8"/><line x1="380.0" y1="158.0" x2="470.0" y2="176.0" stroke="#D02C82" stroke-opacity="0.9" stroke-width="0.8"/><line x1="348.0" y1="158.0" x2="446.0" y2="175.0" stroke="#D02C82" stroke-opacity="0.9" stroke-width="0.8"/><line x1="362.0" y1="148.0" x2="440.0" y2="172.0" stroke="#D02C82" stroke-opacity="0.9" stroke-width="0.8"/><line x1="372.0" y1="160.0" x2="445.0" y2="176.0" stroke="#D02C82" stroke-opacity="0.9" stroke-width="0.8"/><line x1="346.0" y1="152.0" x2="437.0" y2="170.0" stroke="#D02C82" stroke-opacity="0.9" stroke-width="0.8"/><circle cx="385.1" cy="76.8" r="0.9" fill="#8E2058"/><circle cx="488.3" cy="182.1" r="0.9" fill="#8E2058"/><circle cx="379.2" cy="83.6" r="0.9" fill="#8E2058"/><circle cx="491.6" cy="176.3" r="0.9" fill="#8E2058"/><circle cx="398.3" cy="95.4" r="0.9" fill="#8E2058"/><circle cx="484.8" cy="166.7" r="0.9" fill="#8E2058"/><circle cx="365.5" cy="103.8" r="0.9" fill="#8E2058"/><circle cx="481.4" cy="164.2" r="0.9" fill="#8E2058"/><circle cx="345.8" cy="87.5" r="0.9" fill="#8E2058"/><circle cx="421.0" cy="149.5" r="0.9" fill="#8E2058"/><circle cx="381.3" cy="127.4" r="0.9" fill="#8E2058"/><circle cx="466.0" cy="168.5" r="0.9" fill="#8E2058"/><circle cx="375.5" cy="133.3" r="0.9" fill="#8E2058"/><circle cx="473.2" cy="163.4" r="0.9" fill="#8E2058"/><circle cx="376.6" cy="143.1" r="0.9" fill="#8E2058"/><circle cx="470.0" cy="172.0" r="0.9" fill="#8E2058"/><circle cx="344.0" cy="144.1" r="0.9" fill="#8E2058"/><circle cx="460.0" cy="176.0" r="0.9" fill="#8E2058"/><circle cx="331.8" cy="148.5" r="0.9" fill="#8E2058"/><circle cx="451.5" cy="160.1" r="0.9" fill="#8E2058"/><circle cx="359.6" cy="155.8" r="0.9" fill="#8E2058"/><circle cx="475.0" cy="178.0" r="0.9" fill="#8E2058"/><circle cx="350.0" cy="150.0" r="0.9" fill="#8E2058"/><circle cx="445.0" cy="171.0" r="0.9" fill="#8E2058"/><circle cx="370.0" cy="146.0" r="0.9" fill="#8E2058"/><circle cx="465.0" cy="168.0" r="0.9" fill="#8E2058"/><circle cx="385.0" cy="141.5" r="0.9" fill="#8E2058"/><circle cx="478.0" cy="170.0" r="0.9" fill="#8E2058"/><circle cx="338.2" cy="162.1" r="0.9" fill="#8E2058"/><circle cx="439.8" cy="188.6" r="0.9" fill="#8E2058"/><circle cx="352.0" cy="162.4" r="0.9" fill="#8E2058"/><circle cx="456.0" cy="180.0" r="0.9" fill="#8E2058"/><circle cx="383.0" cy="165.0" r="0.9" fill="#8E2058"/><circle cx="462.3" cy="191.8" r="0.9" fill="#8E2058"/><circle cx="365.0" cy="158.0" r="0.9" fill="#8E2058"/><circle cx="448.0" cy="178.0" r="0.9" fill="#8E2058"/><circle cx="330.4" cy="175.0" r="0.9" fill="#8E2058"/><circle cx="430.6" cy="175.1" r="0.9" fill="#8E2058"/><circle cx="339.8" cy="175.7" r="0.9" fill="#8E2058"/><circle cx="428.8" cy="178.3" r="0.9" fill="#8E2058"/><circle cx="357.3" cy="175.7" r="0.9" fill="#8E2058"/><circle cx="420.5" cy="182.8" r="0.9" fill="#8E2058"/><circle cx="335.8" cy="185.1" r="0.9" fill="#8E2058"/><circle cx="426.5" cy="188.8" r="0.9" fill="#8E2058"/><circle cx="341.8" cy="188.2" r="0.9" fill="#8E2058"/><circle cx="424.7" cy="193.5" r="0.9" fill="#8E2058"/><circle cx="361.3" cy="189.1" r="0.9" fill="#8E2058"/><circle cx="432.4" cy="193.5" r="0.9" fill="#8E2058"/><circle cx="371.4" cy="190.9" r="0.9" fill="#8E2058"/><circle cx="452.8" cy="192.6" r="0.9" fill="#8E2058"/><circle cx="355.0" cy="168.0" r="0.9" fill="#8E2058"/><circle cx="467.8" cy="186.4" r="0.9" fill="#8E2058"/><circle cx="368.0" cy="150.0" r="0.9" fill="#8E2058"/><circle cx="458.0" cy="174.0" r="0.9" fill="#8E2058"/><circle cx="355.0" cy="152.0" r="0.9" fill="#8E2058"/><circle cx="452.0" cy="173.5" r="0.9" fill="#8E2058"/><circle cx="380.0" cy="158.0" r="0.9" fill="#8E2058"/><circle cx="470.0" cy="176.0" r="0.9" fill="#8E2058"/><circle cx="348.0" cy="158.0" r="0.9" fill="#8E2058"/><circle cx="446.0" cy="175.0" r="0.9" fill="#8E2058"/><circle cx="362.0" cy="148.0" r="0.9" fill="#8E2058"/><circle cx="440.0" cy="172.0" r="0.9" fill="#8E2058"/><circle cx="372.0" cy="160.0" r="0.9" fill="#8E2058"/><circle cx="445.0" cy="176.0" r="0.9" fill="#8E2058"/><circle cx="346.0" cy="152.0" r="0.9" fill="#8E2058"/><circle cx="437.0" cy="170.0" r="0.9" fill="#8E2058"/><circle cx="365.6" cy="76.9" r="0.85" fill="#4A2A40"/><circle cx="365.6" cy="83.7" r="0.85" fill="#4A2A40"/><circle cx="365.6" cy="87.5" r="0.85" fill="#4A2A40"/><circle cx="365.6" cy="95.7" r="0.85" fill="#4A2A40"/></g>

<line x1="312.1" y1="33.6" x2="312.1" y2="263.8" stroke="#231F20" stroke-width="1.9"/>
<line x1="311.2" y1="262.85" x2="510" y2="262.85" stroke="#231F20" stroke-width="1.9"/>
<line x1="366" y1="263" x2="366" y2="267" stroke="#231F20" stroke-width="1.4"/>
<line x1="456.8" y1="263" x2="456.8" y2="267" stroke="#231F20" stroke-width="1.4"/>
<text x="366" y="281.7" class="t" text-anchor="middle" font-size="11" fill="#231F20">Measured</text>
<text x="456.8" y="281.7" class="t" text-anchor="middle" font-size="11" fill="#231F20">Estimated</text>
<rect x="0.5" y="0.5" width="519" height="294" fill="none" stroke="#231F20" stroke-width="1"/>
</svg>
</body></html>
